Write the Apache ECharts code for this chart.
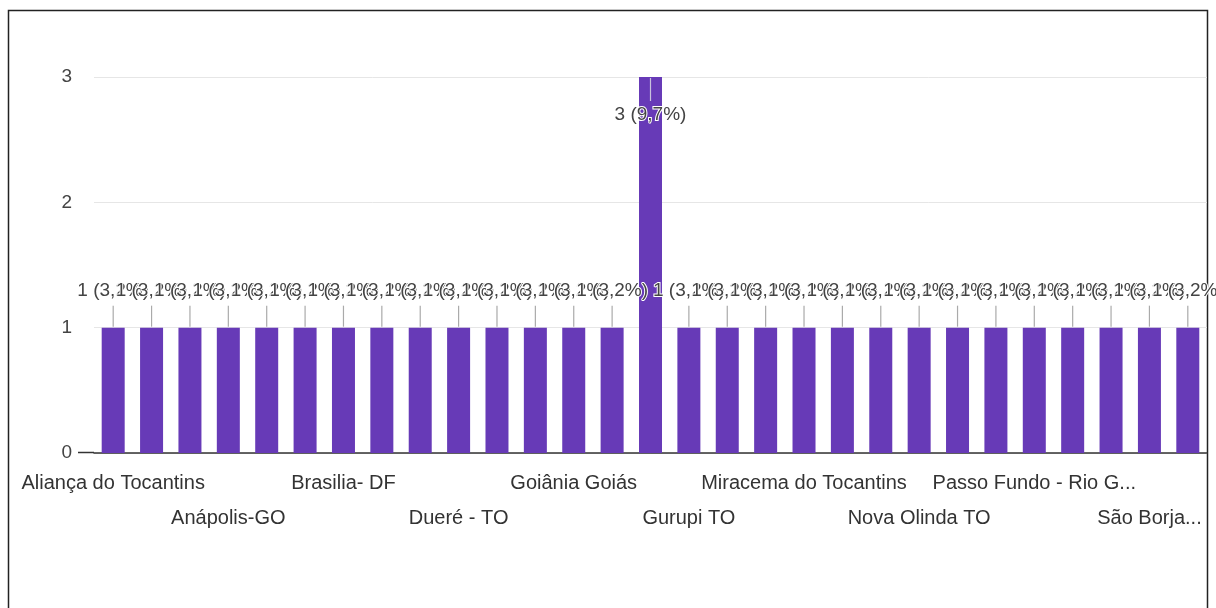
<!DOCTYPE html>
<html>
<head>
<meta charset="utf-8">
<script src="https://cdn.jsdelivr.net/npm/echarts@6/dist/echarts.min.js"></script>
<style>
  html, body { margin: 0; padding: 0; background: #fff; }
  #chart { width: 1216px; height: 608px; }
</style>
</head>
<body>
<div id="chart"></div>
<script>
// Responses per city (alphabetical order)
const cities = [
  'Aliança do Tocantins', 'Alvorada - TO', 'Anápolis', 'Anápolis-GO', 'Araguaína TO',
  'Barrolândia - TO', 'Brasilia- DF', 'Colinas do Tocantins', 'Cristalândia - TO', 'Dueré - TO',
  'Figueirópolis - TO', 'Formoso do Araguaia', 'Goiânia Goiás', 'Goiânia-GO', 'Gurupi',
  'Gurupi TO', 'Lagoa da Confusão', 'Lajeado - TO', 'Miracema do Tocantins', 'Miranorte - TO',
  'Natividade - TO', 'Nova Olinda TO', 'Palmas - TO', 'Paraíso do Tocantins', 'Passo Fundo - Rio Grande do Sul',
  'Porto Nacional - TO', 'Santa Rosa - TO', 'São Borja - Rio Grande do Sul', 'Tocantinópolis'
];
const counts = [
  1, 1, 1, 1, 1, 1, 1, 1, 1, 1,
  1, 1, 1, 1, 3, 1, 1, 1, 1, 1,
  1, 1, 1, 1, 1, 1, 1, 1, 1
];
// Axis label text as shown (long names shortened)
const tickText = {
  24: 'Passo Fundo - Rio G...',
  27: 'São Borja...'
};
const yTicks = [0, 1, 2, 3];

const total = counts.reduce((a, b) => a + b, 0);
const pct = v => (v / total * 100).toFixed(1).replace('.', ',');
const FONT = 'Liberation Sans, Arial, sans-serif';

const chart = echarts.init(document.getElementById('chart'), null, { renderer: 'canvas' });

chart.setOption({
  animation: false,
  backgroundColor: '#fff',
  grid: { left: 94, right: 9, top: 77, bottom: 155, containLabel: false },
  xAxis: {
    type: 'category',
    data: cities,
    axisLine: { show: true, lineStyle: { color: '#333', width: 1.5 } },
    axisTick: { show: false },
    axisLabel: { show: false },
    splitLine: { show: false }
  },
  yAxis: {
    type: 'value',
    min: yTicks[0],
    max: yTicks[yTicks.length - 1],
    interval: 1,
    axisLine: { show: false },
    axisTick: { show: false },
    axisLabel: { color: '#444', fontFamily: FONT, fontSize: 19, margin: 22 },
    splitLine: { lineStyle: { color: '#e6e6e6', width: 1 } }
  },
  series: [
    {
      type: 'bar',
      data: counts,
      barWidth: 23,
      itemStyle: { color: '#673AB7' }
    },
    {
      // value labels with short guide lines
      type: 'custom',
      data: counts.map((v, i) => [i, v]),
      z: 5,
      renderItem: (params, api) => {
        const i = api.value(0);
        const v = api.value(1);
        const top = api.coord([i, v]);
        const x = top[0];
        const y = top[1];
        const inside = y - 40 < params.coordSys.y;
        const lineY1 = inside ? y + 1 : y - 1;
        const lineY2 = inside ? y + 24 : y - 22;
        const textY = inside ? y + 38 : y - 37;
        return {
          type: 'group',
          children: [
            {
              type: 'line',
              shape: { x1: x, y1: lineY1, x2: x, y2: lineY2 },
              style: { stroke: inside ? '#c9c2dc' : '#aaa', lineWidth: 1.2 }
            },
            {
              type: 'text',
              style: {
                text: v + ' (' + pct(v) + '%)',
                x: x,
                y: textY,
                align: 'center',
                verticalAlign: 'middle',
                font: '19px ' + FONT,
                fill: '#444',
                stroke: '#fff',
                lineWidth: 2
              }
            }
          ]
        };
      }
    },
    {
      // category names: every third city, in two staggered rows
      type: 'custom',
      data: cities.map((c, i) => [i, 0]),
      z: 4,
      renderItem: (params, api) => {
        const i = api.value(0);
        if (i % 3 !== 0) return null;
        const base = api.coord([i, 0]);
        const row = (i / 3) % 2;
        return {
          type: 'text',
          style: {
            text: tickText[i] || cities[i],
            x: base[0],
            y: base[1] + (row ? 65 : 30),
            align: 'center',
            verticalAlign: 'middle',
            font: '20px ' + FONT,
            fill: '#333'
          }
        };
      }
    }
  ],
  graphic: [
    {
      // baseline runs a little past the plot on the left
      type: 'line',
      shape: { x1: 78, y1: 452.5, x2: 94, y2: 452.5 },
      style: { stroke: '#333', lineWidth: 1.5 },
      silent: true
    },
    {
      type: 'rect',
      shape: { x: 8.5, y: 10.5, width: 1199, height: 640 },
      style: { fill: null, stroke: '#222', lineWidth: 1.5 },
      silent: true
    }
  ]
});
</script>
</body>
</html>
